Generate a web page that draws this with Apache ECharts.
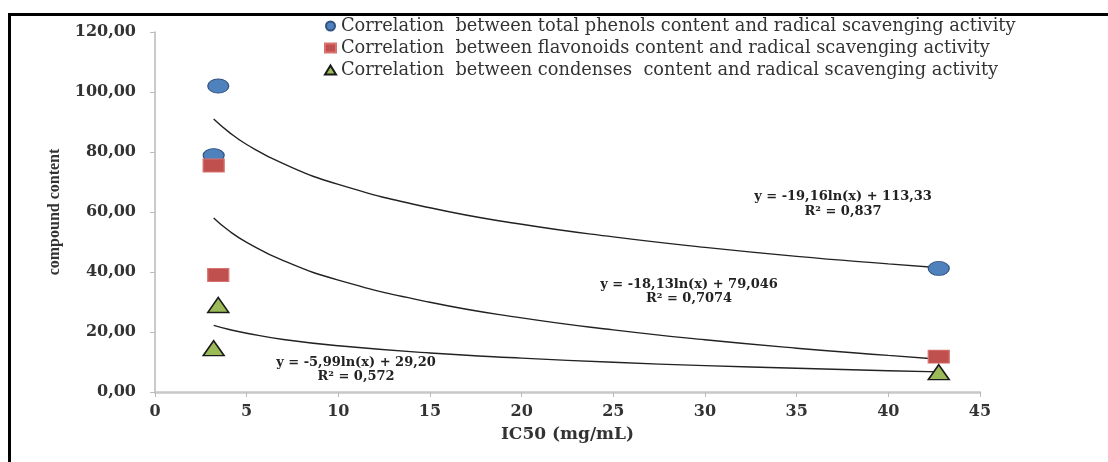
<!DOCTYPE html>
<html>
<head>
<meta charset="utf-8">
<script src="https://cdn.jsdelivr.net/npm/echarts@6/dist/echarts.min.js"></script>
<style>
  html, body { margin: 0; padding: 0; background: #fff; }
  #chart { width: 1108px; height: 462px; }
</style>
</head>
<body>
<div id="chart"></div>
<script>
// measured points (IC50, content)
var phenolsX = [3.45, 3.2, 42.75];
var phenolsY = [102, 78.8, 41.2];
var flavoX = [3.2, 3.45, 42.75];
var flavoY = [75.5, 39, 11.8];
var condX = [3.45, 3.2, 42.75];
var condY = [29, 14.6, 6.6];

// trend lines
var curveX = [3.2, 4, 5, 7, 10, 15, 20, 25, 30, 35, 40, 42.8];
var curve1Y = [91.0, 86.8, 82.5, 76.1, 69.2, 61.4, 55.9, 51.7, 48.2, 45.2, 42.7, 41.4];
var curve2Y = [58.0, 53.9, 49.9, 43.8, 37.3, 29.9, 24.7, 20.7, 17.4, 14.6, 12.2, 10.9];
var curve3Y = [22.2, 20.9, 19.6, 17.5, 15.4, 13.0, 11.3, 9.9, 8.8, 7.9, 7.1, 6.7];

var legendNames = [
  'Correlation  between total phenols content and radical scavenging activity',
  'Correlation  between flavonoids content and radical scavenging activity',
  'Correlation  between condenses  content and radical scavenging activity'
];

function pairs(xs, ys) {
  var out = [];
  for (var i = 0; i < xs.length; i++) out.push([xs[i], ys[i]]);
  return out;
}

var chart = echarts.init(document.getElementById('chart'));

var trendStyle = { color: '#222', width: 1.4 };
var eqFont = { fontFamily: 'DejaVu Serif', fontWeight: 'bold', fontSize: 13, fill: '#222', textAlign: 'center' };

var option = {
  animation: false,
  grid: { left: 155, right: 128, top: 32, bottom: 70 },
  legend: {
    orient: 'vertical',
    left: 319,
    top: 12,
    itemGap: 4,
    itemWidth: 11,
    itemHeight: 9,
    textStyle: { fontFamily: 'DejaVu Serif', fontSize: 17.8, color: '#333' },
    data: [
      { name: legendNames[0], icon: 'circle' },
      { name: legendNames[1], icon: 'rect' },
      { name: legendNames[2], icon: 'triangle' }
    ]
  },
  xAxis: {
    type: 'value', min: 0, max: 45, interval: 5,
    name: 'IC50 (mg/mL)', nameLocation: 'middle', nameGap: 34,
    nameTextStyle: { fontFamily: 'DejaVu Serif', fontWeight: 'bold', fontSize: 17, color: '#333' },
    axisLine: { lineStyle: { color: '#c8c8c8', width: 2.5 } },
    axisTick: { show: true, length: 5, lineStyle: { color: '#bbb' } },
    axisLabel: { margin: 12, fontFamily: 'DejaVu Serif', fontWeight: 'bold', fontSize: 16, color: '#333' },
    splitLine: { show: false }
  },
  yAxis: {
    type: 'value', min: 0, max: 120, interval: 20,
    name: 'compound content', nameLocation: 'middle', nameGap: 92, nameRotate: 90,
    nameTextStyle: { fontFamily: 'Liberation Serif', fontWeight: 'bold', fontSize: 16, color: '#333' },
    axisLine: { show: true, lineStyle: { color: '#b8b8b8', width: 1.5 } },
    axisTick: { show: true, length: 5, lineStyle: { color: '#bbb' } },
    axisLabel: {
      margin: 19, fontFamily: 'DejaVu Serif', fontWeight: 'bold', fontSize: 16, color: '#333',
      formatter: function (v) { return v.toFixed(2).replace('.', ','); }
    },
    splitLine: { show: false }
  },
  series: [
    { type: 'line', data: pairs(curveX, curve1Y), smooth: true, showSymbol: false, lineStyle: trendStyle, silent: true, z: 1 },
    { type: 'line', data: pairs(curveX, curve2Y), smooth: true, showSymbol: false, lineStyle: trendStyle, silent: true, z: 1 },
    { type: 'line', data: pairs(curveX, curve3Y), smooth: true, showSymbol: false, lineStyle: trendStyle, silent: true, z: 1 },
    {
      name: legendNames[0], type: 'scatter', symbol: 'circle', symbolSize: [21, 14],
      itemStyle: { color: '#4f81bd', borderColor: '#2f5380', borderWidth: 1, opacity: 1 },
      data: pairs(phenolsX, phenolsY), z: 3
    },
    {
      name: legendNames[1], type: 'scatter', symbol: 'rect', symbolSize: [21, 13],
      itemStyle: { color: '#c0504d', borderColor: '#d9736f', borderWidth: 1, opacity: 1 },
      data: pairs(flavoX, flavoY), z: 3
    },
    {
      name: legendNames[2], type: 'scatter', symbol: 'triangle', symbolSize: [21, 15],
      itemStyle: { color: '#9bbb59', borderColor: '#1a1a1a', borderWidth: 1.5, opacity: 1 },
      data: pairs(condX, condY), z: 3
    }
  ],
  graphic: [
    { type: 'rect', shape: { x: 9, y: 13, width: 1099, height: 3 }, style: { fill: '#000' } },
    { type: 'rect', shape: { x: 8, y: 13, width: 3, height: 449 }, style: { fill: '#000' } },
    { type: 'text', x: 843, y: 190, style: Object.assign({ text: 'y = -19,16ln(x) + 113,33' }, eqFont) },
    { type: 'text', x: 843, y: 205, style: Object.assign({ text: 'R² = 0,837' }, eqFont) },
    { type: 'text', x: 689, y: 278, style: Object.assign({ text: 'y = -18,13ln(x) + 79,046' }, eqFont) },
    { type: 'text', x: 689, y: 292, style: Object.assign({ text: 'R² = 0,7074' }, eqFont) },
    { type: 'text', x: 356, y: 356, style: Object.assign({ text: 'y = -5,99ln(x) + 29,20' }, eqFont) },
    { type: 'text', x: 356, y: 370, style: Object.assign({ text: 'R² = 0,572' }, eqFont) }
  ]
};

chart.setOption(option);
</script>
</body>
</html>
